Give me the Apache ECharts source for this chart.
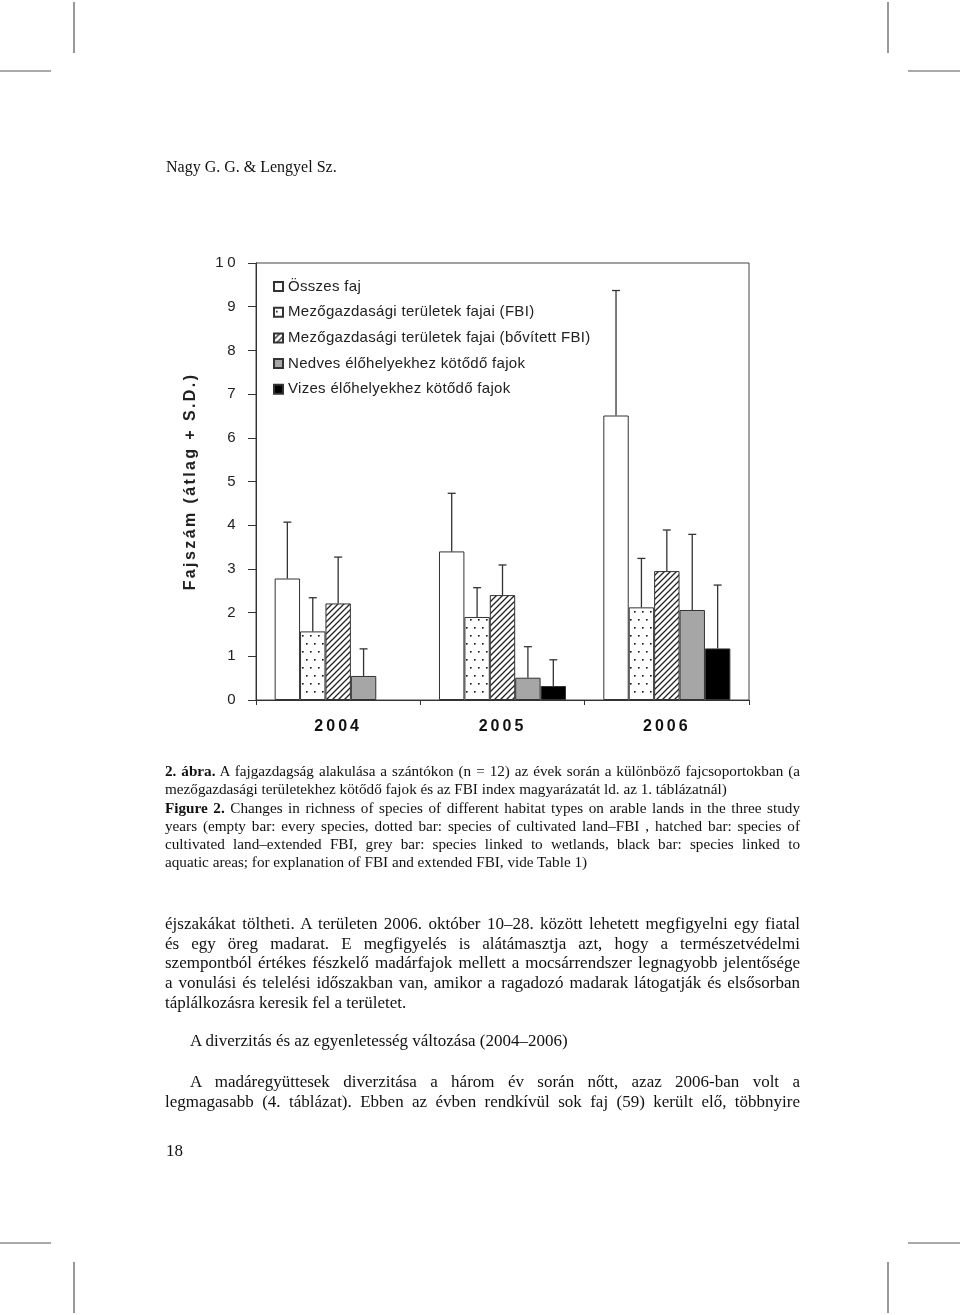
<!DOCTYPE html>
<html>
<head>
<meta charset="utf-8">
<script src="https://cdn.jsdelivr.net/npm/echarts@6/dist/echarts.min.js"></script>
<style>
  html, body { margin:0; padding:0; background:#fff; }
  #page { position:relative; width:960px; height:1315px; overflow:hidden; background:#fff; }
  #chart { position:absolute; left:0; top:0; width:960px; height:1315px; }
  .t { position:absolute; font-family:"Liberation Serif","Times New Roman",serif; color:#111; white-space:nowrap; }
  .j { text-align:justify; text-align-last:justify; }
  .cap { font-size:15.2px; line-height:18.3px; width:635px; left:165px; }
  .body { font-size:17px; line-height:19.7px; width:635px; left:165px; }
</style>
</head>
<body>
<div id="page">
  <div id="chart"></div>
  <div class="t" style="left:166px; top:158px; font-size:16px;">Nagy G. G. &amp; Lengyel Sz.</div>

  <div class="t cap" style="top:762px;">
    <div class="j"><b>2. ábra.</b> A fajgazdagság alakulása a szántókon (n = 12) az évek során a különböző fajcsoportokban (a</div>
    <div>mezőgazdasági területekhez kötődő fajok és az FBI index magyarázatát ld. az 1. táblázatnál)</div>
    <div class="j"><b>Figure 2.</b> Changes in richness of species of different habitat types on arable lands in the three study</div>
    <div class="j">years (empty bar: every species, dotted bar: species of cultivated land–FBI , hatched bar: species of</div>
    <div class="j">cultivated land–extended FBI, grey bar: species linked to wetlands, black bar: species linked to</div>
    <div>aquatic areas; for explanation of FBI and extended FBI, vide Table 1)</div>
  </div>

  <div class="t body" style="top:914px;">
    <div class="j">éjszakákat töltheti. A területen 2006. október 10–28. között lehetett megfigyelni egy fiatal</div>
    <div class="j">és egy öreg madarat. E megfigyelés is alátámasztja azt, hogy a természetvédelmi</div>
    <div class="j">szempontból értékes fészkelő madárfajok mellett a mocsárrendszer legnagyobb jelentősége</div>
    <div class="j">a vonulási és telelési időszakban van, amikor a ragadozó madarak látogatják és elsősorban</div>
    <div>táplálkozásra keresik fel a területet.</div>
  </div>

  <div class="t" style="left:190px; top:1031px; font-size:17px;">A diverzitás és az egyenletesség változása (2004–2006)</div>

  <div class="t body" style="top:1072px;">
    <div class="j" style="padding-left:25px;">A madáregyüttesek diverzitása a három év során nőtt, azaz 2006-ban volt a</div>
    <div class="j">legmagasabb (4. táblázat). Ebben az évben rendkívül sok faj (59) került elő, többnyire</div>
  </div>

  <div class="t" style="left:166px; top:1141px; font-size:17px;">18</div>
</div>
<script>
// ---- data ----
const years = ['2004', '2005', '2006'];
const seriesNames = [
  'Összes faj',
  'Mezőgazdasági területek fajai (FBI)',
  'Mezőgazdasági területek fajai (bővített FBI)',
  'Nedves élőhelyekhez kötődő fajok',
  'Vizes élőhelyekhez kötődő fajok'
];
const yAxisName   = 'Fajszám (átlag + S.D.)';
const osszes      = [2.78, 3.40, 6.51];
const osszesSD    = [1.29, 1.33, 2.86];
const fbi         = [1.57, 1.90, 2.12];
const fbiSD       = [0.77, 0.67, 1.12];
const fbiExt      = [2.21, 2.40, 2.95];
const fbiExtSD    = [1.06, 0.69, 0.94];
const nedves      = [0.55, 0.51, 2.06];
const nedvesSD    = [0.62, 0.71, 1.73];
const vizes       = [null, 0.32, 1.18];
const vizesSD     = [null, 0.60, 1.45];
const yTicks      = [0, 10, 1];

const means = [osszes, fbi, fbiExt, nedves, vizes];
const sds   = [osszesSD, fbiSD, fbiExtSD, nedvesSD, vizesSD];

// ---- letter-spaced chart text (the reference figure's text is tracked out) ----
(function () {
  const proto = CanvasRenderingContext2D.prototype;
  if (!('letterSpacing' in proto)) return;
  const orig = proto.fillText;
  proto.fillText = function (t, x, y, mw) {
    const c = this.canvas;
    if (c && c.closest && c.closest('#chart')) {
      const s = String(t);
      let ls = '0.3px';
      if (s === yAxisName) ls = '2.4px';
      else if (years.indexOf(s) >= 0) ls = '3px';
      else if (/^\d+$/.test(s)) ls = '3.5px';
      this.letterSpacing = ls;
      const r = orig.call(this, t, x, y, mw);
      this.letterSpacing = '0px';
      return r;
    }
    return orig.call(this, t, x, y, mw);
  };
})();

// ---- patterns ----
function dotPattern() {
  const c = document.createElement('canvas'); c.width = 8; c.height = 16;
  const g = c.getContext('2d');
  g.fillStyle = '#fff'; g.fillRect(0, 0, 8, 16);
  g.fillStyle = '#111';
  g.fillRect(2, 3, 1.6, 1.6);
  g.fillRect(6, 11, 1.6, 1.6);
  return c;
}
function hatchPattern() {
  const c = document.createElement('canvas'); c.width = 6; c.height = 6;
  const g = c.getContext('2d');
  g.fillStyle = '#fff'; g.fillRect(0, 0, 6, 6);
  g.strokeStyle = '#222'; g.lineWidth = 1.3;
  g.beginPath();
  g.moveTo(-1, 7); g.lineTo(7, -1);
  g.moveTo(-4, 4); g.lineTo(4, -4);
  g.moveTo(2, 10); g.lineTo(10, 2);
  g.stroke();
  return c;
}
const fills = [
  '#ffffff',
  { image: dotPattern(), repeat: 'repeat' },
  { image: hatchPattern(), repeat: 'repeat' },
  '#a6a6a6',
  '#000000'
];

const CAT_GAP = 0.227;
const barSeries = seriesNames.map((name, i) => ({
  name: name,
  type: 'bar',
  data: means[i],
  barGap: '0%',
  barCategoryGap: (CAT_GAP * 100) + '%',
  itemStyle: { color: fills[i], borderColor: '#333', borderWidth: 1 },
  emphasis: { disabled: true },
  z: 2
}));

const errData = [];
for (let s = 0; s < 5; s++) {
  for (let c = 0; c < years.length; c++) {
    if (sds[s][c] != null && means[s][c] != null) errData.push([c, s, means[s][c], means[s][c] + sds[s][c]]);
  }
}

const errSeries = {
  type: 'custom',
  name: 'sd',
  data: errData,
  z: 3,
  silent: true,
  encode: { x: 0, y: 3 },
  renderItem: function (params, api) {
    const cat = api.value(0), s = api.value(1), m = api.value(2), top = api.value(3);
    const band = api.size([1, 0])[0];
    const bw = band * (1 - CAT_GAP) / 5;
    const cx = api.coord([cat, 0])[0] + (s - 2) * bw;
    const y0 = api.coord([cat, m])[1];
    const y1 = api.coord([cat, top])[1];
    const st = { stroke: '#333', lineWidth: 1.3 };
    return {
      type: 'group',
      children: [
        { type: 'line', shape: { x1: cx, y1: y0, x2: cx, y2: y1 }, style: st },
        { type: 'line', shape: { x1: cx - 4, y1: y1, x2: cx + 4, y2: y1 }, style: st }
      ]
    };
  }
};

const chart = echarts.init(document.getElementById('chart'), null, { renderer: 'canvas' });
const markStyle = { stroke: '#555', lineWidth: 1.2 };
chart.setOption({
  animation: false,
  backgroundColor: 'transparent',
  grid: { left: 256, top: 263, width: 493, height: 437, show: true, borderColor: '#444', borderWidth: 1, backgroundColor: 'transparent' },
  legend: {
    data: seriesNames,
    orient: 'vertical',
    left: 268, top: 274,
    itemWidth: 9, itemHeight: 9, itemGap: 10.7,
    icon: 'rect',
    selectedMode: false,
    textStyle: { fontFamily: 'Liberation Sans, Arial, sans-serif', fontSize: 15, color: '#222' }
  },
  xAxis: {
    type: 'category',
    data: years,
    axisLine: { lineStyle: { color: '#333', width: 1 } },
    axisTick: { show: true, length: 5, lineStyle: { color: '#333' } },
    axisLabel: { fontFamily: 'Liberation Sans, Arial, sans-serif', fontWeight: 'bold', fontSize: 16, color: '#111', margin: 19 }
  },
  yAxis: {
    type: 'value',
    min: yTicks[0], max: yTicks[1], interval: yTicks[2],
    name: yAxisName,
    nameLocation: 'middle',
    nameRotate: 90,
    nameGap: 57,
    nameTextStyle: { fontFamily: 'Liberation Sans, Arial, sans-serif', fontWeight: 'bold', fontSize: 16, color: '#222' },
    axisLine: { show: true, lineStyle: { color: '#333', width: 1 } },
    axisTick: { show: true, length: 8, lineStyle: { color: '#333' } },
    splitLine: { show: false },
    axisLabel: { fontFamily: 'Liberation Sans, Arial, sans-serif', fontSize: 15, color: '#222', margin: 17 }
  },
  series: barSeries.concat([errSeries]),
  graphic: [
    { type: 'line', shape: { x1: 74, y1: 2, x2: 74, y2: 53 }, style: markStyle },
    { type: 'line', shape: { x1: 888, y1: 2, x2: 888, y2: 53 }, style: markStyle },
    { type: 'line', shape: { x1: 0, y1: 71, x2: 51, y2: 71 }, style: markStyle },
    { type: 'line', shape: { x1: 908, y1: 71, x2: 960, y2: 71 }, style: markStyle },
    { type: 'line', shape: { x1: 0, y1: 1243, x2: 51, y2: 1243 }, style: markStyle },
    { type: 'line', shape: { x1: 908, y1: 1243, x2: 960, y2: 1243 }, style: markStyle },
    { type: 'line', shape: { x1: 74, y1: 1262, x2: 74, y2: 1313 }, style: markStyle },
    { type: 'line', shape: { x1: 888, y1: 1262, x2: 888, y2: 1313 }, style: markStyle }
  ]
});
</script>
</body>
</html>
